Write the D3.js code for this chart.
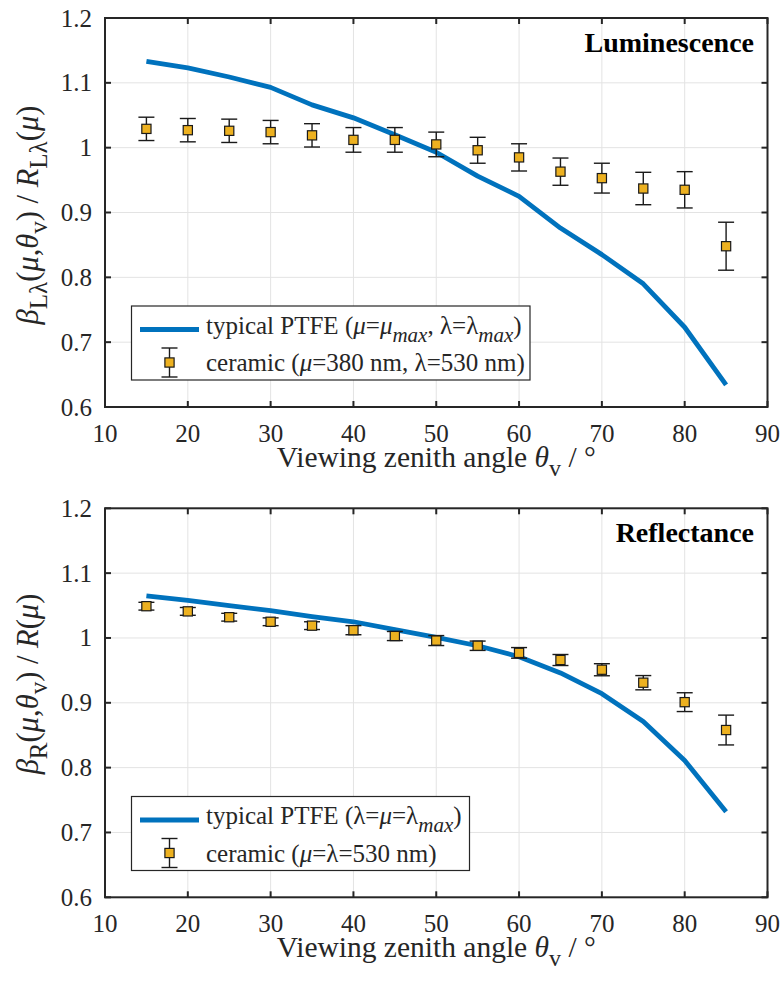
<!DOCTYPE html>
<html>
<head>
<meta charset="utf-8">
<script src="https://cdn.jsdelivr.net/npm/d3@7"></script>
</head>
<body style="margin:0; background:#fff">
<script>
// viewing zenith angles (deg)
var angles = [15, 20, 25, 30, 35, 40, 45, 50, 55, 60, 65, 70, 75, 80, 85];

// luminescence panel
var lumPtfe = [1.133, 1.123, 1.109, 1.093, 1.066, 1.046, 1.020, 0.993, 0.956, 0.925, 0.876, 0.835, 0.790, 0.723, 0.634];
var lumCeramic = [1.029, 1.027, 1.026, 1.024, 1.019, 1.012, 1.012, 1.005, 0.996, 0.985, 0.963, 0.953, 0.937, 0.935, 0.848];
var lumErr = [0.018, 0.018, 0.018, 0.018, 0.018, 0.019, 0.019, 0.019, 0.020, 0.021, 0.021, 0.023, 0.025, 0.028, 0.037];

// reflectance panel
var refPtfe = [1.065, 1.058, 1.050, 1.042, 1.033, 1.025, 1.013, 1.001, 0.988, 0.971, 0.946, 0.914, 0.871, 0.811, 0.732];
var refCeramic = [1.049, 1.041, 1.032, 1.025, 1.019, 1.012, 1.003, 0.996, 0.988, 0.977, 0.966, 0.951, 0.931, 0.901, 0.858];
var refErr = [0.006, 0.006, 0.006, 0.006, 0.006, 0.007, 0.007, 0.0077, 0.0072, 0.0082, 0.0085, 0.0093, 0.011, 0.0145, 0.023];

var xTicks = [10, 20, 30, 40, 50, 60, 70, 80, 90];
var yTicks = [0.6, 0.7, 0.8, 0.9, 1.0, 1.1, 1.2];
var yTickLabels = ["0.6", "0.7", "0.8", "0.9", "1", "1.1", "1.2"];

// rich text parts: [text, style] with style '' | 'i' | 's' (subscript) | 'si'
var lumYLabel = [["β", "i"], ["Lλ", "s"], ["(", ""], ["μ", "i"], [",", ""], ["θ", "i"], ["v", "s"], [") / ", ""], ["R", "i"], ["Lλ", "s"], ["(", ""], ["μ", "i"], [")", ""]];
var refYLabel = [["β", "i"], ["R", "s"], ["(", ""], ["μ", "i"], [",", ""], ["θ", "i"], ["v", "s"], [") / ", ""], ["R", "i"], ["(", ""], ["μ", "i"], [")", ""]];
var xLabel = [["Viewing zenith angle ", ""], ["θ", "i"], ["v", "s"], [" / °", ""]];

var lumLegend = [
  [["typical PTFE (", ""], ["μ", "i"], ["=", ""], ["μ", "i"], ["max", "si"], [", λ=λ", ""], ["max", "si"], [")", ""]],
  [["ceramic (", ""], ["μ", "i"], ["=380 nm, λ=530 nm)", ""]]
];
var refLegend = [
  [["typical PTFE (λ=", ""], ["μ", "i"], ["=λ", ""], ["max", "si"], [")", ""]],
  [["ceramic (", ""], ["μ", "i"], ["=λ=530 nm)", ""]]
];

var W = 784, H = 990;
var blue = "#0072BD", gold = "#EDB120", axisCol = "#262626";

var svg = d3.select("body").append("svg")
    .attr("width", W)
    .attr("height", H);

function txt(g, size) {
  return g.append("text")
      .style("font-family", "Liberation Serif")
      .attr("font-size", size)
      .attr("fill", axisCol);
}

function richText(t, parts, size) {
  var shift = 0;
  var sub = Math.round(size * 0.3);
  parts.forEach(function(p) {
    var s = p[1];
    var want = (s === "s" || s === "si") ? sub : 0;
    var ts = t.append("tspan").text(p[0]);
    if (want !== shift) { ts.attr("dy", want - shift); shift = want; }
    if (s === "i" || s === "si") ts.attr("font-style", "italic");
    if (s === "s" || s === "si") ts.attr("font-size", Math.round(size * 0.82));
  });
}

function panel(cfg) {
  var x = d3.scaleLinear().domain([10, 90]).range([105, 767.5]);
  var y = d3.scaleLinear().domain([0.6, 1.2]).range([cfg.bottom, cfg.top]);
  var g = svg.append("g");

  // grid
  g.selectAll(".gx").data(xTicks.slice(1, -1)).enter().append("line")
      .attr("x1", d => x(d)).attr("x2", d => x(d))
      .attr("y1", y(0.6)).attr("y2", y(1.2))
      .attr("stroke", "#e3e3e3").attr("stroke-width", 1);
  g.selectAll(".gy").data(yTicks.slice(1, -1)).enter().append("line")
      .attr("x1", x(10)).attr("x2", x(90))
      .attr("y1", d => y(d)).attr("y2", d => y(d))
      .attr("stroke", "#e3e3e3").attr("stroke-width", 1);

  // PTFE curve
  var line = d3.line()
      .x(function(d, i) { return x(angles[i]); })
      .y(function(d) { return y(d); });
  g.append("path")
      .datum(cfg.ptfe)
      .attr("d", line)
      .attr("fill", "none")
      .attr("stroke", blue)
      .attr("stroke-width", 4.8)
      .attr("stroke-linejoin", "round");

  // ceramic error bars + markers
  var pts = angles.map(function(a, i) { return {a: a, v: cfg.ceramic[i], e: cfg.err[i]}; });
  var eb = g.selectAll(".eb").data(pts).enter().append("g")
      .attr("stroke", "#1a1a1a").attr("stroke-width", 1.4);
  eb.append("line")
      .attr("x1", d => x(d.a)).attr("x2", d => x(d.a))
      .attr("y1", d => y(d.v - d.e)).attr("y2", d => y(d.v + d.e));
  eb.append("line")
      .attr("x1", d => x(d.a) - 8).attr("x2", d => x(d.a) + 8)
      .attr("y1", d => y(d.v + d.e)).attr("y2", d => y(d.v + d.e));
  eb.append("line")
      .attr("x1", d => x(d.a) - 8).attr("x2", d => x(d.a) + 8)
      .attr("y1", d => y(d.v - d.e)).attr("y2", d => y(d.v - d.e));
  g.selectAll(".mk").data(pts).enter().append("rect")
      .attr("x", d => x(d.a) - 4.6).attr("y", d => y(d.v) - 4.6)
      .attr("width", 9.2).attr("height", 9.2)
      .attr("fill", gold).attr("stroke", "#1a1a1a").attr("stroke-width", 1.2);

  // axes box with inward ticks on all sides
  g.append("rect")
      .attr("x", x(10)).attr("y", y(1.2))
      .attr("width", x(90) - x(10)).attr("height", y(0.6) - y(1.2))
      .attr("fill", "none").attr("stroke", axisCol).attr("stroke-width", 2);
  xTicks.forEach(function(t) {
    g.append("line").attr("x1", x(t)).attr("x2", x(t)).attr("y1", y(0.6)).attr("y2", y(0.6) - 6)
        .attr("stroke", axisCol).attr("stroke-width", 2);
    g.append("line").attr("x1", x(t)).attr("x2", x(t)).attr("y1", y(1.2)).attr("y2", y(1.2) + 6)
        .attr("stroke", axisCol).attr("stroke-width", 2);
    txt(g, 25).attr("x", x(t)).attr("y", y(0.6) + 34.5)
        .attr("text-anchor", "middle").text(t);
  });
  yTicks.forEach(function(t, i) {
    g.append("line").attr("x1", x(10)).attr("x2", x(10) + 6).attr("y1", y(t)).attr("y2", y(t))
        .attr("stroke", axisCol).attr("stroke-width", 2);
    g.append("line").attr("x1", x(90)).attr("x2", x(90) - 6).attr("y1", y(t)).attr("y2", y(t))
        .attr("stroke", axisCol).attr("stroke-width", 2);
    txt(g, 25).attr("x", 92).attr("y", y(t) + 8.5)
        .attr("text-anchor", "end").text(yTickLabels[i]);
  });

  // axis labels
  var xl = txt(g, 29.5).attr("x", (x(10) + x(90)) / 2).attr("y", y(0.6) + 60)
      .attr("text-anchor", "middle");
  richText(xl, xLabel, 29.5);
  var yl = txt(g, 30.5)
      .attr("transform", "translate(38," + cfg.yLabelMid + ") rotate(-90)")
      .attr("text-anchor", "middle");
  richText(yl, cfg.yLabel, 30.5);

  // title
  txt(g, 28).attr("x", 754).attr("y", y(1.2) + 34)
      .attr("text-anchor", "end").attr("font-weight", "bold")
      .attr("fill", "#000").text(cfg.title);

  // legend
  var lg = g.append("g").attr("transform", "translate(131.5," + cfg.legTop + ")");
  lg.append("rect").attr("width", cfg.legW).attr("height", 74)
      .attr("fill", "#fff").attr("stroke", axisCol).attr("stroke-width", 1.2);
  lg.append("line").attr("x1", 8.5).attr("x2", 67.5).attr("y1", 23.5).attr("y2", 23.5)
      .attr("stroke", blue).attr("stroke-width", 4.8);
  var lx = 38, ly = 56.5;
  lg.append("line").attr("x1", lx).attr("x2", lx).attr("y1", ly - 14.5).attr("y2", ly + 14.5)
      .attr("stroke", "#1a1a1a").attr("stroke-width", 1.4);
  [ly - 14.5, ly + 14.5].forEach(function(cy) {
    lg.append("line").attr("x1", lx - 8).attr("x2", lx + 8).attr("y1", cy).attr("y2", cy)
        .attr("stroke", "#1a1a1a").attr("stroke-width", 1.4);
  });
  lg.append("rect").attr("x", lx - 4.6).attr("y", ly - 4.6).attr("width", 9.2).attr("height", 9.2)
      .attr("fill", gold).attr("stroke", "#1a1a1a").attr("stroke-width", 1.2);
  cfg.legend.forEach(function(parts, i) {
    var t = txt(lg, 25).attr("x", 74.5).attr("y", i === 0 ? 27.5 : 65);
    richText(t, parts, 25);
  });
}

panel({top: 18, bottom: 407, ptfe: lumPtfe, ceramic: lumCeramic, err: lumErr,
       yLabel: lumYLabel, yLabelMid: 215, title: "Luminescence", legend: lumLegend, legTop: 306, legW: 398.5});
panel({top: 508.3, bottom: 897.3, ptfe: refPtfe, ceramic: refCeramic, err: refErr,
       yLabel: refYLabel, yLabelMid: 684, title: "Reflectance", legend: refLegend, legTop: 796.5, legW: 338});
</script>
</body>
</html>
